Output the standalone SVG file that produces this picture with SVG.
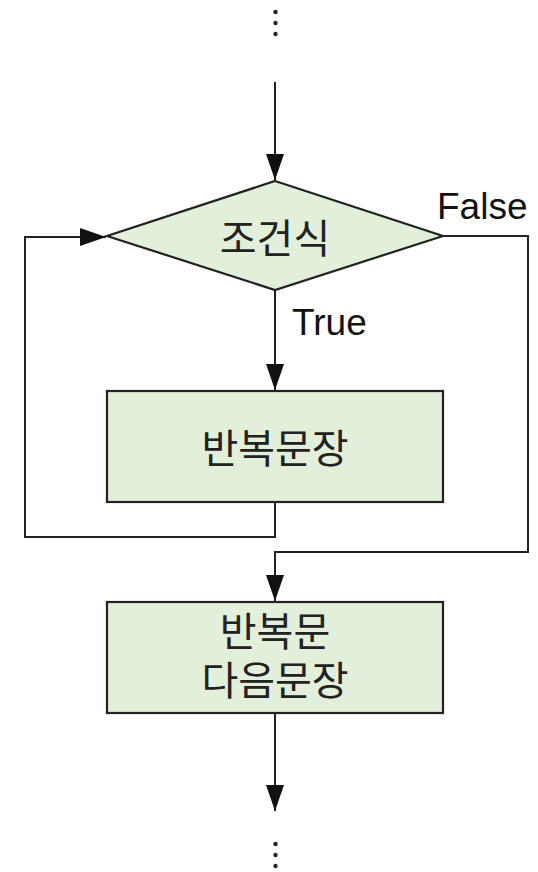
<svg xmlns="http://www.w3.org/2000/svg" width="538" height="872" viewBox="0 0 538 872">
<style>
.shape{fill:#E2EFDA;stroke:#222;stroke-width:2.2}
.conn{fill:none;stroke:#222;stroke-width:2}
.ko{font-family:"Noto Sans CJK KR","Noto Sans",sans-serif;font-size:40px;fill:#222;text-anchor:middle;dominant-baseline:central}
.ko2{font-family:"Noto Sans CJK KR","Noto Sans",sans-serif;font-size:40px;fill:#222;text-anchor:middle}
.lbl{font-family:"Liberation Sans",Arial,sans-serif;font-size:37px;fill:#111}
.dot{fill:#222}
</style>
<defs>
<marker id="arr" viewBox="0 0 26 18" refX="26" refY="9" markerWidth="26" markerHeight="18" markerUnits="userSpaceOnUse" orient="auto">
<path d="M0,0 L26,9 L0,18 z" fill="#111"/>
</marker>
</defs>
<g id="dots-top">
<circle class="dot" cx="275.5" cy="12" r="2.2"/>
<circle class="dot" cx="275.5" cy="23" r="2.2"/>
<circle class="dot" cx="275.5" cy="34" r="2.2"/>
</g>
<g id="connectors">
<line class="conn" x1="275" y1="82" x2="275" y2="180" marker-end="url(#arr)"/>
<line class="conn" x1="275" y1="290" x2="275" y2="390" marker-end="url(#arr)"/>
<polyline class="conn" points="275,502 275,537 25,537 25,237 106,237" marker-end="url(#arr)"/>
<polyline class="conn" points="443,236 528,236 528,552 275,552 275,601" marker-end="url(#arr)"/>
<line class="conn" x1="275" y1="713" x2="275" y2="811" marker-end="url(#arr)"/>
</g>
<g id="cond">
<polygon class="shape" points="275,181 443,236 275,290 107,236"/>
<text class="ko" x="275" y="236">조건식</text>
</g>
<g id="body">
<rect class="shape" x="107" y="391" width="336" height="111"/>
<text class="ko" x="275" y="446">반복문장</text>
</g>
<g id="next">
<rect class="shape" x="107" y="602" width="336" height="111"/>
<text class="ko2" x="275" y="646">반복문</text>
<text class="ko2" x="275" y="695">다음문장</text>
</g>
<g id="labels">
<text class="lbl" x="437" y="219">False</text>
<text class="lbl" x="292" y="335">True</text>
</g>
<g id="dots-bottom">
<circle class="dot" cx="275.5" cy="844" r="2.2"/>
<circle class="dot" cx="275.5" cy="855" r="2.2"/>
<circle class="dot" cx="275.5" cy="866" r="2.2"/>
</g>
</svg>
